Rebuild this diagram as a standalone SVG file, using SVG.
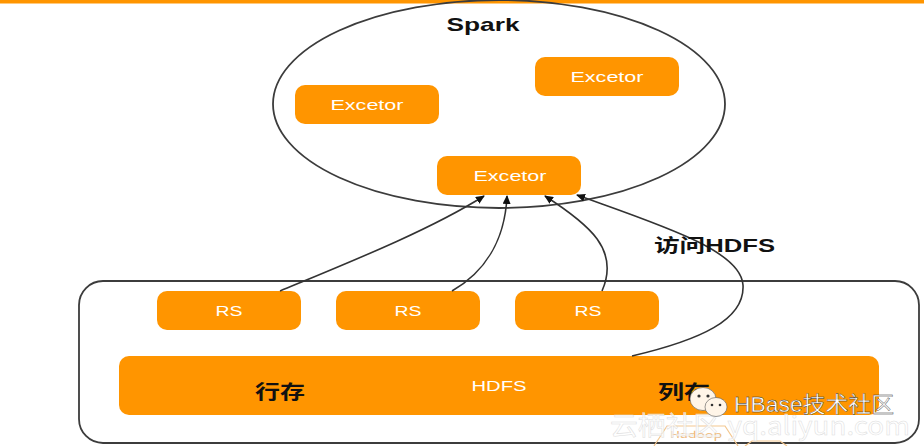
<svg xmlns="http://www.w3.org/2000/svg" width="924" height="446" viewBox="0 0 924 446">
<style>
.n{fill:#ff9500}
.w{fill:#fff;font:500 15.500px "Liberation Sans",Arial,sans-serif;text-anchor:middle}
.b{fill:#111;font-weight:700;font-family:"Liberation Sans","Noto Sans CJK SC",sans-serif}
.c{fill:none;stroke:#333;stroke-width:1.6}
.o{fill:none;stroke:#3c3c3c;stroke-width:1.8}
.wm{font-family:"Noto Sans CJK SC",sans-serif}
</style>
<defs>
<marker id="a" markerWidth="9" markerHeight="8" refX="8" refY="4" orient="auto" markerUnits="userSpaceOnUse"><path d="M0 0L9 4L0 8z" fill="#111"/></marker>
</defs>
<rect width="924" height="446" fill="#fff"/>
<rect id="topbar" width="924" height="3.500" fill="#ff9500"/>
<g id="spark">
<ellipse class="o" cx="499" cy="104" rx="226" ry="104"/>
<text class="b" x="483" y="31" font-size="19" text-anchor="middle" textLength="73" lengthAdjust="spacingAndGlyphs">Spark</text>
</g>
<g id="executor-left"><rect class="n" x="295" y="85" width="144" height="39" rx="10"/><text class="w" x="367" y="110" textLength="73" lengthAdjust="spacingAndGlyphs">Excetor</text></g>
<g id="executor-right"><rect class="n" x="535" y="57" width="144" height="39" rx="10"/><text class="w" x="607" y="82" textLength="73" lengthAdjust="spacingAndGlyphs">Excetor</text></g>
<g id="executor-bottom"><rect class="n" x="437" y="156" width="144" height="39" rx="10"/><text class="w" x="510" y="181" textLength="73" lengthAdjust="spacingAndGlyphs">Excetor</text></g>
<g id="storage">
<rect class="o" x="79" y="281" width="840" height="162" rx="24"/>
</g>
<g id="rs1"><rect class="n" x="157" y="291" width="144" height="39" rx="10"/><text class="w" x="229" y="316" textLength="27" lengthAdjust="spacingAndGlyphs">RS</text></g>
<g id="rs2"><rect class="n" x="336" y="291" width="144" height="39" rx="10"/><text class="w" x="408" y="316" textLength="27" lengthAdjust="spacingAndGlyphs">RS</text></g>
<g id="rs3"><rect class="n" x="515" y="291" width="144" height="39" rx="10"/><text class="w" x="588" y="316" textLength="27" lengthAdjust="spacingAndGlyphs">RS</text></g>
<g id="hdfs">
<rect class="n" x="119" y="356" width="760" height="59" rx="10"/>
<text class="w" x="499" y="391" textLength="55" lengthAdjust="spacingAndGlyphs">HDFS</text>
<text class="b" x="280" y="399" font-size="19" text-anchor="middle" textLength="50" lengthAdjust="spacingAndGlyphs">行存</text>
<text class="b" x="684" y="399" font-size="19" text-anchor="middle" textLength="52" lengthAdjust="spacingAndGlyphs">列存</text>
</g>
<g id="connectors">
<path class="c" marker-end="url(#a)" d="M280 291C350 262 430 230 484 196"/>
<path class="c" marker-end="url(#a)" d="M452 291C485 272 505 240 507 196"/>
<path class="c" marker-end="url(#a)" d="M602 291C620 250 590 225 545 196"/>
<path class="c" marker-end="url(#a)" d="M632 356C700 340 745 320 743 285C741 250 660 225 577 195"/>
</g>
<text id="edge-label" class="b" x="654" y="252" font-size="18" textLength="121" lengthAdjust="spacingAndGlyphs">访问HDFS</text>
<g id="watermark">
<g fill="none" stroke="#f3c78f" stroke-width="1.200">
<path d="M654 446L667 426H725L738 446"/>
<path d="M745 446L752 441H780L787 446"/>
</g>
<text class="wm" x="696" y="438" font-size="9" fill="#f0b878" text-anchor="middle" textLength="52" lengthAdjust="spacingAndGlyphs">Hadoop</text>
<text class="wm" x="610" y="435" font-size="26" fill="#fff" fill-opacity=".7" stroke="#ddd" stroke-width=".5" textLength="300" lengthAdjust="spacingAndGlyphs">云栖社区 yq.aliyun.com</text>
<ellipse cx="703" cy="399" rx="13" ry="11.500" fill="#fff5e8" stroke="#555" stroke-width=".6"/>
<ellipse cx="716" cy="407" rx="11" ry="9.500" fill="#fff5e8" stroke="#555" stroke-width=".6"/>
<circle cx="699" cy="396" r="1.600" fill="#333"/><circle cx="708" cy="396" r="1.600" fill="#333"/>
<circle cx="712" cy="405" r="1.300" fill="#333"/><circle cx="720" cy="405" r="1.300" fill="#333"/>
<text x="734" y="412" font-size="22" fill="#fff" stroke="#222" stroke-width=".35" textLength="160" lengthAdjust="spacingAndGlyphs" font-family="'Liberation Sans','Noto Sans CJK SC',sans-serif">HBase技术社区</text>
</g>
</svg>
